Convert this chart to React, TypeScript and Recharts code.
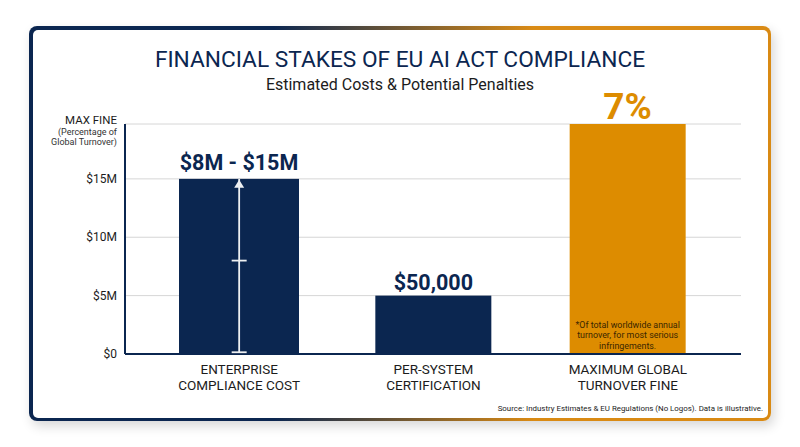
import {
  Bar,
  BarChart,
  CartesianGrid,
  LabelList,
  ReferenceDot,
  ReferenceLine,
  XAxis,
  YAxis,
} from "recharts";

const categories = ["ENTERPRISE|COMPLIANCE COST", "PER-SYSTEM|CERTIFICATION", "MAXIMUM GLOBAL|TURNOVER FINE"];
const plotValues = [15, 5, 19.7];
const valueLabels = ["$8M - $15M", "$50,000", "7%"];
const yTicks = [0, 5, 10, 15, 19.7];
const yTickLabels = ["$0", "$5M", "$10M", "$15M", "MAX FINE"];
const maxFineNote = ["(Percentage of", "Global Turnover)"];
const footnote = ["*Of total worldwide annual", "turnover, for most serious", "infringements."];
const rangeLow = 0.15;
const rangeMid = 8;
const rangeHigh = 15;

const NAVY = "#0b2650";
const ORANGE = "#dd8c00";
const FONT = "Roboto, sans-serif";

const data = categories.map((name, i) => ({
  name,
  value: plotValues[i],
  label: valueLabels[i],
}));

function BarShape(props: any) {
  const { x, y, width, height, index } = props;
  // the first bar is a little wider than the other two
  const pad = index === 0 ? 2 : 0;
  return (
    <rect
      x={x - pad}
      y={y}
      width={width + pad * 2}
      height={height}
      fill={index === 2 ? ORANGE : NAVY}
    />
  );
}

function ValueLabel(props: any) {
  const { x, y, width, height, value, index } = props;
  const cx = x + width / 2;
  if (index === 2) {
    return (
      <g fontFamily={FONT}>
        <text x={cx} y={y - 5} textAnchor="middle" fontSize={37} fontWeight={700} fill={ORANGE}>
          {value}
        </text>
        {footnote.map((line, i) => (
          <text
            key={line}
            x={cx}
            y={y + height - 26 + i * 10.4}
            textAnchor="middle"
            fontSize={8.9}
            fill="#3a2600"
          >
            {line}
          </text>
        ))}
      </g>
    );
  }
  return (
    <text
      x={cx}
      y={index === 0 ? y - 9 : y - 6}
      textAnchor="middle"
      fontFamily={FONT}
      fontSize={index === 0 ? 21.5 : 21.5}
      fontWeight={700}
      fill={NAVY}
    >
      {value}
    </text>
  );
}

function CategoryTick(props: any) {
  const { x, y, payload } = props;
  const lines = String(payload.value).split("|");
  return (
    <g fontFamily={FONT} fontSize={13.5} fill="#1c1c1c">
      {lines.map((line, i) => (
        <text key={line} x={x} y={y + 12 + i * 16} textAnchor="middle" fill="#1c1c1c">
          {line}
        </text>
      ))}
    </g>
  );
}

function ValueTick(props: any) {
  const { y, payload } = props;
  const label = yTickLabels[yTicks.indexOf(payload.value)];
  if (label === "MAX FINE") {
    return (
      <g fontFamily={FONT} textAnchor="end">
        <text x={117} y={y} fontSize={11.5} fill="#1c1c1c">
          {label}
        </text>
        {maxFineNote.map((line, i) => (
          <text key={line} x={117} y={y + 11 + i * 10} fontSize={9} fill="#333">
            {line}
          </text>
        ))}
      </g>
    );
  }
  return (
    <text x={117} y={y + 4} textAnchor="end" fontFamily={FONT} fontSize={12} fill="#1c1c1c">
      {label}
    </text>
  );
}

const RangeCap = (props: any) => (
  <line x1={props.cx - 7.5} x2={props.cx + 7.5} y1={props.cy} y2={props.cy} stroke="#eef0f2" strokeWidth={1.8} />
);

const RangeArrow = (props: any) => (
  <path
    d={`M ${props.cx} ${props.cy + 1} L ${props.cx + 5} ${props.cy + 9} L ${props.cx - 5} ${props.cy + 9} Z`}
    fill="#eef0f2"
  />
);

export default function App() {
  return (
    <div style={{ position: "fixed", left: 0, top: 0, width: 800, height: 447, background: "#fff", fontFamily: FONT }}>
      <div
        style={{
          position: "absolute",
          left: 29,
          top: 26,
          width: 742,
          height: 395,
          boxSizing: "border-box",
          padding: 3.5,
          borderRadius: 8,
          background: `linear-gradient(90deg, ${NAVY} 33%, #d98a14 68%)`,
          boxShadow: "3px 5px 12px rgba(0,0,0,0.16)",
        }}
      >
        <div style={{ width: "100%", height: "100%", background: "#fff", borderRadius: 5 }} />
      </div>
      <div style={{ position: "absolute", left: 0, width: 800, top: 45, textAlign: "center", fontSize: 22.7, lineHeight: "30px", color: NAVY }}>
        FINANCIAL STAKES OF EU AI ACT COMPLIANCE
      </div>
      <div style={{ position: "absolute", left: 0, width: 800, top: 75, textAlign: "center", fontSize: 16, lineHeight: "20px", color: "#1c1c1c" }}>
        Estimated Costs &amp; Potential Penalties
      </div>
      <div style={{ position: "absolute", right: 37, top: 403, fontSize: 7.9, lineHeight: "12px", color: "#222", whiteSpace: "nowrap" }}>
        Source: Industry Estimates &amp; EU Regulations (No Logos). Data is illustrative.
      </div>
      <div style={{ position: "absolute", left: 0, top: 0 }}>
        <BarChart
          width={800}
          height={447}
          data={data}
          barSize={116}
          margin={{ top: 124, right: 59, bottom: 53, left: 0 }}
        >
          <CartesianGrid vertical={false} stroke="#d6d6d6" strokeWidth={1} />
          <XAxis
            dataKey="name"
            height={40}
            padding={{ left: 17, right: 16 }}
            axisLine={{ stroke: NAVY, strokeWidth: 2 }}
            tickLine={false}
            interval={0}
            tick={<CategoryTick />}
          />
          <YAxis
            width={125}
            domain={[0, 19.7]}
            ticks={yTicks}
            axisLine={{ stroke: NAVY, strokeWidth: 2 }}
            tickLine={false}
            interval={0}
            tick={<ValueTick />}
          />
          <Bar dataKey="value" isAnimationActive={false} shape={<BarShape />}>
            <LabelList dataKey="label" content={<ValueLabel />} />
          </Bar>
          <ReferenceLine
            segment={[
              { x: categories[0], y: rangeLow },
              { x: categories[0], y: rangeHigh },
            ]}
            stroke="#eef0f2"
            strokeWidth={1.8}
          />
          <ReferenceDot x={categories[0]} y={rangeLow} shape={<RangeCap />} />
          <ReferenceDot x={categories[0]} y={rangeMid} shape={<RangeCap />} />
          <ReferenceDot x={categories[0]} y={rangeHigh} shape={<RangeArrow />} />
        </BarChart>
      </div>
    </div>
  );
}
